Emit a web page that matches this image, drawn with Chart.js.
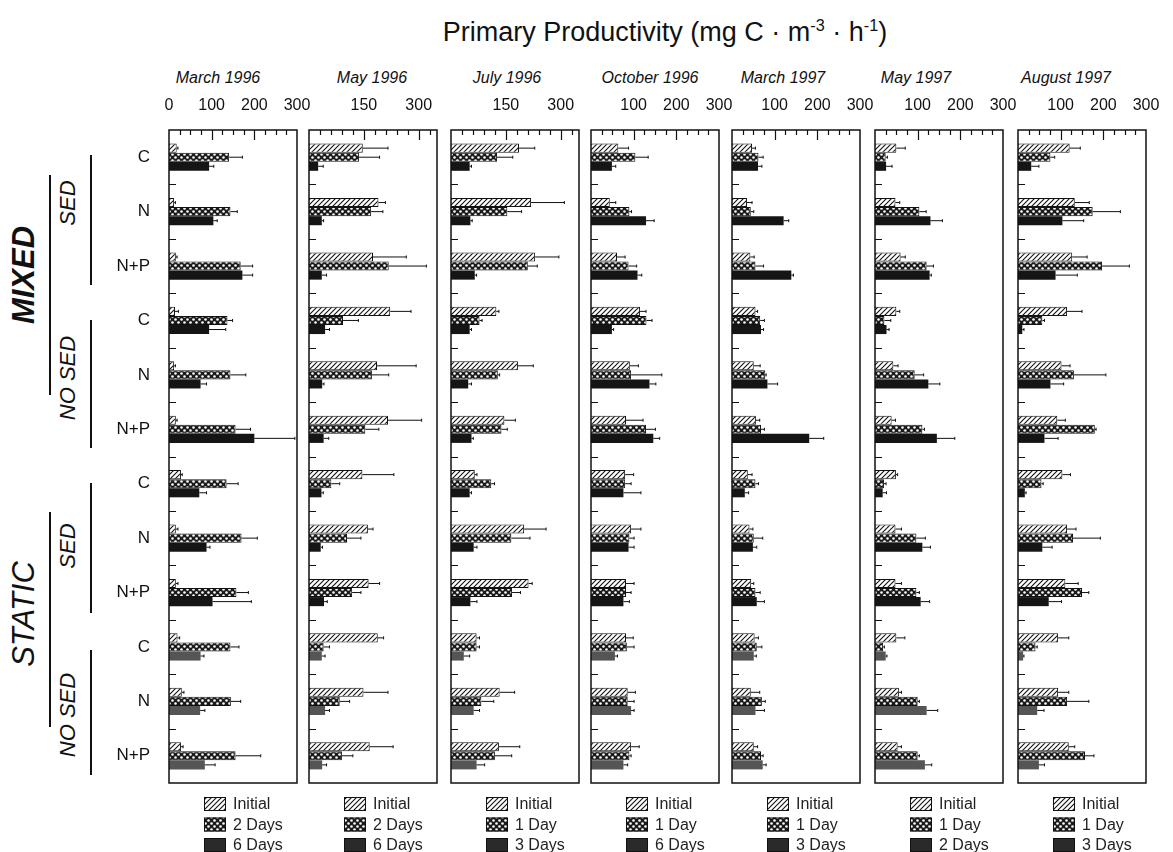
<!DOCTYPE html>
<html>
<head>
<meta charset="utf-8">
<script src="https://cdn.jsdelivr.net/npm/chart.js@4/dist/chart.umd.min.js"></script>
<style>
  body { margin: 0; background: #fff; width: 1173px; height: 852px; position: relative; overflow: hidden;
         font-family: "Liberation Sans", Arial, sans-serif; color: #111; }
  canvas { position: absolute; }
  .t { position: absolute; white-space: nowrap; transform: translate(-50%, -50%); }
  .rot { transform: translate(-50%, -50%) rotate(-90deg); font-style: italic; }
  .vl { position: absolute; width: 2px; background: #111; }
  sup { font-size: 60%; }
</style>
</head>
<body>
<div class="t" style="left:665px;top:32px;font-size:27px">Primary Productivity (mg C · m<sup>-3</sup> · h<sup>-1</sup>)</div>

<div class="t rot" style="left:24px;top:275px;font-size:31px;font-weight:bold">MIXED</div>
<div class="t rot" style="left:68px;top:203px;font-size:22px">SED</div>
<div class="t rot" style="left:68px;top:378px;font-size:22px">NO SED</div>
<div class="vl" style="left:49px;top:175px;height:220px"></div>
<div class="vl" style="left:90px;top:155px;height:130px"></div>
<div class="vl" style="left:90px;top:320px;height:128px"></div>

<div class="t rot" style="left:24px;top:614px;font-size:31px">STATIC</div>
<div class="t rot" style="left:68px;top:546px;font-size:22px">SED</div>
<div class="t rot" style="left:68px;top:715px;font-size:22px">NO SED</div>
<div class="vl" style="left:49px;top:512px;height:215px"></div>
<div class="vl" style="left:90px;top:483px;height:130px"></div>
<div class="vl" style="left:90px;top:650px;height:125px"></div>

<script>
// Primary productivity, 7 sampling dates
const months = ["March 1996", "May 1996", "July 1996", "October 1996", "March 1997", "May 1997", "August 1997"];
const rows = ["C", "N", "N+P", "C", "N", "N+P", "C", "N", "N+P", "C", "N", "N+P"];
const legendNames = [
  ["Initial", "2 Days", "6 Days"],
  ["Initial", "2 Days", "6 Days"],
  ["Initial", "1 Day", "3 Days"],
  ["Initial", "1 Day", "6 Days"],
  ["Initial", "1 Day", "3 Days"],
  ["Initial", "1 Day", "2 Days"],
  ["Initial", "1 Day", "3 Days"],
];
const tickLabels = [[0, 100, 200, 300], [150, 300], [150, 300], [100, 200, 300], [100, 200, 300], [100, 200, 300], [100, 200, 300]];
const axisMax = [300, 350, 350, 300, 300, 300, 300];
const tickStep = [25, 30, 30, 25, 25, 25, 25];

// one row per month, 12 treatments each
const initialVals = [
  [18, 12, 16, 14, 12, 16, 28, 16, 16, 20, 30, 28],
  [147, 190, 175, 222, 186, 216, 146, 161, 163, 188, 149, 166],
  [186, 219, 230, 124, 183, 146, 65, 200, 212, 70, 133, 131],
  [64, 44, 61, 115, 91, 82, 80, 94, 82, 82, 86, 94],
  [47, 35, 43, 55, 51, 56, 37, 41, 45, 53, 44, 51],
  [50, 48, 60, 50, 43, 39, 49, 48, 48, 50, 56, 53],
  [121, 133, 127, 115, 102, 92, 104, 115, 111, 94, 94, 119],
];
const initialErr = [
  [3, 3, 3, 8, 3, 3, 3, 5, 5, 5, 5, 5],
  [69, 19, 91, 57, 107, 92, 86, 14, 30, 16, 67, 64],
  [43, 91, 65, 7, 42, 30, 6, 60, 10, 8, 41, 57],
  [24, 14, 19, 14, 20, 40, 20, 23, 19, 17, 18, 19],
  [8, 12, 9, 5, 15, 9, 10, 8, 6, 9, 21, 9],
  [21, 10, 11, 8, 11, 9, 4, 14, 14, 20, 6, 9],
  [25, 34, 35, 35, 20, 19, 19, 21, 30, 25, 25, 14],
];
const secondVals = [
  [141, 144, 168, 137, 144, 156, 135, 170, 158, 144, 145, 156],
  [137, 170, 218, 93, 172, 154, 61, 104, 118, 40, 84, 90],
  [126, 154, 210, 78, 128, 138, 110, 165, 167, 70, 83, 120],
  [104, 90, 88, 130, 94, 129, 80, 90, 82, 84, 86, 90],
  [62, 44, 55, 66, 78, 68, 55, 51, 55, 58, 70, 68],
  [25, 104, 121, 22, 93, 111, 21, 97, 97, 19, 100, 100],
  [76, 175, 197, 57, 131, 180, 55, 129, 150, 41, 115, 157],
];
const secondErr = [
  [31, 16, 28, 12, 36, 35, 27, 37, 28, 20, 23, 59],
  [56, 32, 103, 42, 46, 37, 23, 38, 24, 16, 27, 30],
  [43, 39, 26, 7, 5, 16, 9, 51, 23, 8, 34, 46],
  [30, 5, 19, 13, 72, 22, 14, 11, 12, 17, 15, 4],
  [11, 7, 19, 10, 2, 8, 7, 21, 11, 12, 8, 5],
  [4, 16, 16, 15, 21, 5, 5, 21, 7, 3, 4, 4],
  [10, 65, 64, 5, 75, 3, 4, 64, 16, 4, 51, 21],
];
const thirdVals = [
  [94, 104, 172, 94, 74, 200, 71, 88, 102, 74, 73, 84],
  [25, 35, 35, 44, 36, 40, 34, 32, 41, 35, 44, 36],
  [51, 53, 65, 51, 47, 56, 51, 62, 53, 35, 62, 70],
  [49, 129, 109, 49, 137, 146, 76, 88, 76, 56, 94, 76],
  [61, 121, 139, 68, 83, 181, 30, 49, 58, 51, 55, 72],
  [26, 130, 128, 27, 125, 145, 18, 111, 107, 25, 121, 117],
  [31, 104, 88, 10, 76, 62, 16, 57, 72, 12, 45, 49],
];
const thirdErr = [
  [11, 9, 24, 39, 14, 95, 17, 8, 91, 8, 11, 24],
  [14, 5, 13, 12, 5, 14, 5, 5, 9, 9, 12, 12],
  [5, 5, 5, 5, 9, 5, 5, 9, 18, 16, 16, 22],
  [9, 19, 10, 4, 15, 15, 41, 13, 14, 6, 7, 10],
  [9, 12, 5, 6, 24, 34, 9, 9, 18, 6, 21, 8],
  [14, 28, 4, 6, 27, 42, 9, 19, 21, 3, 26, 16],
  [18, 50, 51, 4, 31, 32, 3, 23, 30, 2, 16, 13],
];

// layout
const panelLeft = [169, 309, 451, 591, 732, 875, 1018];
const panelW = 128;
const sidePad = 34;
const monthX = [218, 372, 507, 650, 783, 916, 1066];
const canvasTop = 84, canvasH = 768;
const fontFam = '"Liberation Sans", Arial, sans-serif';

function makeHatch() {
  const c = document.createElement("canvas");
  c.width = c.height = 5;
  const g = c.getContext("2d");
  g.fillStyle = "#fff";
  g.fillRect(0, 0, 5, 5);
  g.strokeStyle = "#111";
  g.lineWidth = 1.1;
  g.beginPath();
  g.moveTo(0, 5); g.lineTo(5, 0);
  g.moveTo(-1, 1); g.lineTo(1, -1);
  g.moveTo(4, 6); g.lineTo(6, 4);
  g.stroke();
  return g.createPattern(c, "repeat");
}
function makeChecker() {
  const c = document.createElement("canvas");
  c.width = c.height = 6;
  const g = c.getContext("2d");
  g.fillStyle = "#1a1a1a";
  g.fillRect(0, 0, 6, 6);
  g.fillStyle = "#fff";
  [[1.5, 1.5], [4.5, 4.5]].forEach(([x, y]) => {
    g.beginPath(); g.arc(x, y, 1.3, 0, Math.PI * 2); g.fill();
  });
  return g.createPattern(c, "repeat");
}
const hatch = makeHatch();
const checker = makeChecker();
const solid = rows.map((r, i) => (i >= 9 ? "#555" : "#151515"));

// month captions
months.forEach((m, p) => {
  const d = document.createElement("div");
  d.className = "t";
  d.style.cssText = `left:${monthX[p]}px;top:78px;font-size:16px;font-style:italic`;
  d.textContent = m;
  document.body.appendChild(d);
});

// frame, tick marks, error bars and legend
function makePanelPlugin(p) {
  return {
    id: "panel" + p,
    afterDatasetsDraw(chart) {
      const { ctx, chartArea: a, scales } = chart;
      const xs = scales.x, ys = scales.y;
      ctx.save();
      ctx.strokeStyle = "#111";
      ctx.lineWidth = 1;
      chart.data.datasets.forEach((ds, di) => {
        const meta = chart.getDatasetMeta(di);
        const errs = [initialErr, secondErr, thirdErr][di][p];
        meta.data.forEach((bar, i) => {
          const e = errs[i];
          if (!e) return;
          const x2 = xs.getPixelForValue(ds.data[i] + e);
          ctx.beginPath();
          ctx.moveTo(bar.x, bar.y);
          ctx.lineTo(x2, bar.y);
          ctx.moveTo(x2, bar.y - 1.5);
          ctx.lineTo(x2, bar.y + 1.5);
          ctx.stroke();
        });
      });
      ctx.lineWidth = 1.5;
      ctx.strokeRect(a.left, a.top, a.right - a.left, a.bottom - a.top);
      ctx.lineWidth = 1.2;
      for (let v = tickStep[p]; v < axisMax[p]; v += tickStep[p]) {
        const x = Math.round(xs.getPixelForValue(v)) + 0.5;
        const len = tickLabels[p].includes(v) ? 10 : 5;
        ctx.beginPath();
        ctx.moveTo(x, a.top);
        ctx.lineTo(x, a.top + len);
        ctx.stroke();
      }
      ctx.lineWidth = 1;
      for (let k = 1; k < rows.length; k++) {
        const y = Math.round((ys.getPixelForValue(k - 1) + ys.getPixelForValue(k)) / 2) + 0.5;
        ctx.beginPath();
        ctx.moveTo(a.left, y);
        ctx.lineTo(a.left + 7, y);
        ctx.stroke();
      }
      ctx.font = "16px " + fontFam;
      ctx.textBaseline = "middle";
      chart.data.datasets.forEach((ds, di) => {
        const bx = a.left + 35, by = a.bottom + 14 + di * 20.5;
        ctx.fillStyle = [hatch, checker, "#2a2a2a"][di];
        ctx.fillRect(bx, by, 22, 14);
        ctx.lineWidth = 1;
        ctx.strokeRect(bx + 0.5, by + 0.5, 21, 13);
        ctx.fillStyle = "#222";
        ctx.fillText(ds.label, bx + 29, by + 8);
      });
      ctx.restore();
    },
  };
}

months.forEach((m, p) => {
  const first = p === 0;
  const cv = document.createElement("canvas");
  const left = first ? 0 : panelLeft[p] - sidePad;
  const width = first ? panelLeft[0] + panelW + sidePad : panelW + 2 * sidePad;
  cv.width = width;
  cv.height = canvasH;
  cv.style.left = left + "px";
  cv.style.top = canvasTop + "px";
  document.body.appendChild(cv);

  const names = legendNames[p];
  new Chart(cv, {
    type: "bar",
    data: {
      labels: rows,
      datasets: [
        { label: names[0], data: initialVals[p], backgroundColor: hatch, borderColor: "#111", borderWidth: 1 },
        { label: names[1], data: secondVals[p], backgroundColor: checker, borderColor: "#111", borderWidth: 1 },
        { label: names[2], data: thirdVals[p], backgroundColor: solid, borderWidth: 0 },
      ],
    },
    options: {
      indexAxis: "y",
      responsive: false,
      animation: false,
      events: [],
      datasets: { bar: { categoryPercentage: 0.5, barPercentage: 1 } },
      layout: { padding: { left: first ? 0 : sidePad, right: sidePad, top: 0, bottom: 69 } },
      plugins: { legend: { display: false }, tooltip: { enabled: false } },
      scales: {
        x: {
          position: "top",
          min: 0,
          max: axisMax[p],
          grid: { display: false },
          border: { display: false },
          ticks: {
            stepSize: tickStep[p],
            autoSkip: false,
            maxRotation: 0,
            padding: 7,
            color: "#111",
            font: { size: 16, family: fontFam },
            callback: (v) => (tickLabels[p].includes(v) ? String(v) : ""),
          },
          afterFit: (s) => { s.height = 46; },
        },
        y: {
          display: true,
          grid: { display: false },
          border: { display: false },
          ticks: { display: first, padding: 11, color: "#111", font: { size: 17, family: fontFam } },
          afterFit: (s) => { s.width = first ? panelLeft[0] : 0; },
        },
      },
    },
    plugins: [makePanelPlugin(p)],
  });
});
</script>
</body>
</html>
